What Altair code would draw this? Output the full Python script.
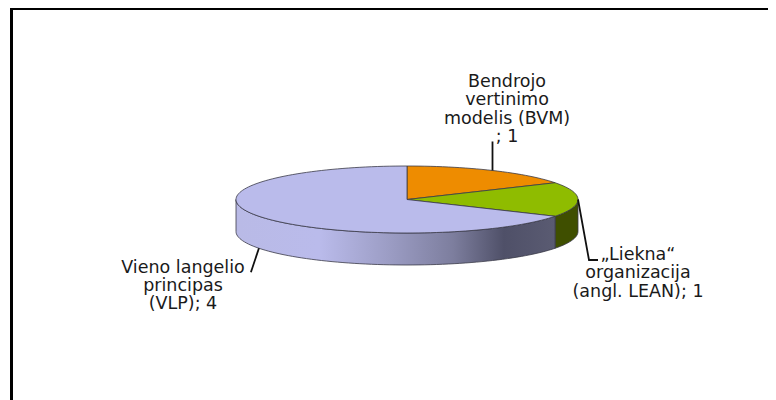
import math
import altair as alt

categories = ["Bendrojo vertinimo modelis (BVM)", "„Liekna“ organizacija (angl. LEAN)", "Vieno langelio principas (VLP)"]
values = [1, 1, 4]
colors = ["#ee8c00", "#8fbc00", "#babbeb"]
side_colors = ["#9a5b00", "#3f4f00", None]
label_lines = [
    ["Bendrojo", "vertinimo", "modelis (BVM)", "; 1"],
    ["„Liekna“", "organizacija", "(angl. LEAN);  1"],
    ["Vieno langelio", "principas", "(VLP); 4"],
]

# layout (chart pixels; page margin of 8 already removed)
W, H = 760, 392
CX, CY, RX, RY, DEPTH = 399.0, 191.5, 171.0, 33.5, 32.0
label_centers = [499, 630, 175]
label_first_baseline = [79, 252, 264.5]
LINE_H = 18.3
FONT = "DejaVu Sans"
FONT_SIZE = 17.5


def pt(deg, dy=0.0):
    a = math.radians(deg)
    return [CX + RX * math.sin(a), CY - RY * math.cos(a) + dy]


def arc(a0, a1, dy=0.0):
    n = max(2, int(abs(a1 - a0) / 2))
    return [pt(a0 + (a1 - a0) * i / n, dy) for i in range(n + 1)]


def feature(ring):
    return {"type": "Feature", "properties": {}, "geometry": {"type": "Polygon", "coordinates": [ring + [ring[0]]]}}


total = sum(values)
angles = []
s = 0.0
for v in values:
    e = s + v / total * 360
    angles.append((s, e))
    s = e

xs = alt.Scale(domain=[0, W], range=[0, W])
ys = alt.Scale(domain=[0, H], range=[0, H])
X = lambda f: alt.X(f, type="quantitative", scale=xs, axis=None)
Y = lambda f: alt.Y(f, type="quantitative", scale=ys, axis=None)

layers = []

# frame
frame_left = alt.Chart(alt.Data(values=[
    {"x": 3.5, "y": H + 10, "o": 0}, {"x": 3.5, "y": 0, "o": 1},
])).mark_line(color="#000000", strokeWidth=3).encode(x=X("x:Q"), y=Y("y:Q"), order="o:Q")
frame_top = alt.Chart(alt.Data(values=[
    {"x": 2, "y": 1, "o": 0}, {"x": W + 10, "y": 1, "o": 1},
])).mark_line(color="#000000", strokeWidth=2).encode(x=X("x:Q"), y=Y("y:Q"), order="o:Q")
layers += [frame_left, frame_top]


def geo(rings, **kw):
    return alt.Chart(alt.Data(values=[feature(r) for r in rings])).mark_geoshape(
        stroke="#3a3a48", strokeWidth=0.8, **kw).project(type="identity", scale=1, translate=[0, 0])


# side walls (only the front half, angles 90..270)
blue_side = alt.Gradient(
    gradient="linear", x1=0, x2=1, y1=0, y2=0,
    stops=[
        alt.GradientStop(color="#b9bae6", offset=0),
        alt.GradientStop(color="#babbeb", offset=0.26),
        alt.GradientStop(color="#9d9ec6", offset=0.47),
        alt.GradientStop(color="#7d7e9e", offset=0.68),
        alt.GradientStop(color="#4f5068", offset=0.84),
        alt.GradientStop(color="#5a5b72", offset=1),
    ],
)
for i, (a0, a1) in enumerate(angles):
    lo, hi = max(a0, 90), min(a1, 270)
    if lo >= hi:
        continue
    ring = arc(lo, hi) + arc(hi, lo, DEPTH)
    fill = blue_side if side_colors[i] is None else side_colors[i]
    layers.append(geo([ring], fill=fill))

# top surface
for i, (a0, a1) in enumerate(angles):
    ring = [[CX, CY]] + arc(a0, a1)
    layers.append(geo([ring], fill=colors[i]))

# leader lines, anchored on each slice's mid angle
mids = [(a0 + a1) / 2 for a0, a1 in angles]
p0 = pt(mids[0])
p1 = pt(mids[1])
p2 = pt(mids[2], DEPTH)
leaders = [
    [p0, [p0[0], p0[1] - 29]],
    [p1, [p1[0] + 11, p1[1] + 60.5], [p1[0] + 20, p1[1] + 60.5]],
    [p2, [p2[0] - 8, p2[1] + 24]],
]
rows = []
for k, path in enumerate(leaders):
    for j, (x, y) in enumerate(path):
        rows.append({"k": k, "o": j, "x": x, "y": y})
layers.append(
    alt.Chart(alt.Data(values=rows)).mark_line(color="#111111", strokeWidth=1.8).encode(
        x=X("x:Q"), y=Y("y:Q"), detail="k:N", order="o:Q"
    )
)

# labels
text_rows = []
for lines, cx, b in zip(label_lines, label_centers, label_first_baseline):
    for j, t in enumerate(lines):
        text_rows.append({"t": t, "x": cx, "y": b + j * LINE_H})
layers.append(
    alt.Chart(alt.Data(values=text_rows)).mark_text(
        font=FONT, fontSize=FONT_SIZE, lineHeight=LINE_H, color="#1a1a1a", align="center", baseline="alphabetic"
    ).encode(x=X("x:Q"), y=Y("y:Q"), text="t:N")
)

chart = alt.layer(*layers).properties(
    width=W, height=H, padding=0, autosize=alt.AutoSizeParams(type="none"),
    background="#ffffff",
).configure_view(stroke=None)
chart.save("out.html", embed_options={"renderer": "svg", "actions": False})
